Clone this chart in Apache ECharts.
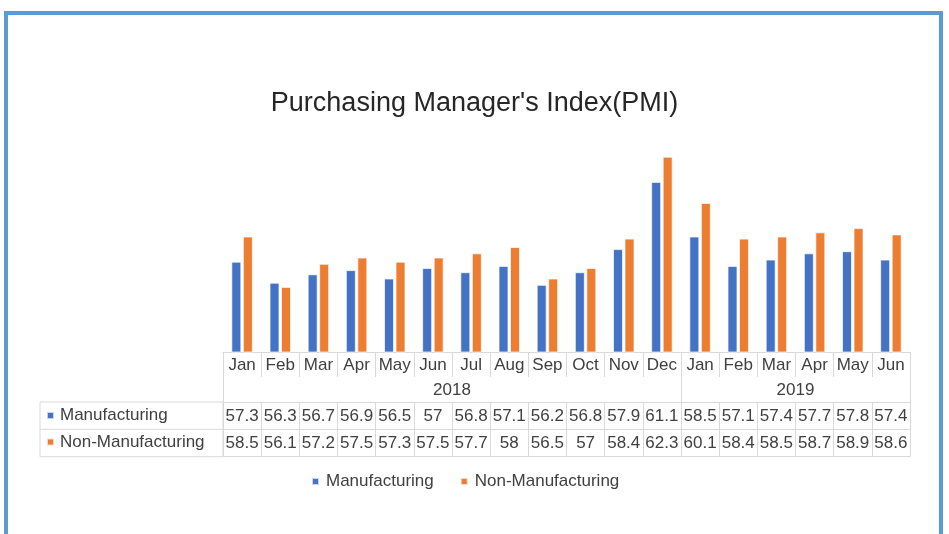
<!DOCTYPE html>
<html>
<head>
<meta charset="utf-8">
<script src="https://cdn.jsdelivr.net/npm/echarts@6/dist/echarts.min.js"></script>
<style>
  html, body { margin: 0; padding: 0; background: #fff; overflow: hidden; }
  #main { width: 949px; height: 534px; }
  /* blue frame round the chart, bottom edge runs off the picture */
  .frame {
    position: absolute; left: 4px; top: 11px; width: 939px; height: 600px;
    box-sizing: border-box; border: 4px solid #5b9bd5; pointer-events: none;
  }
</style>
</head>
<body>
<div id="main"></div>
<div class="frame"></div>
<script>
// data
const months = ['Jan', 'Feb', 'Mar', 'Apr', 'May', 'Jun', 'Jul', 'Aug', 'Sep', 'Oct', 'Nov', 'Dec',
  'Jan', 'Feb', 'Mar', 'Apr', 'May', 'Jun']
const years = ['2018', '2019']
const yearMid = [6, 15]        // centre of each year group, in month slots
const yearEdges = [0, 12, 18]  // year boundaries, in month slots
const manufacturing = [57.3, 56.3, 56.7, 56.9, 56.5, 57, 56.8, 57.1, 56.2, 56.8, 57.9, 61.1,
  58.5, 57.1, 57.4, 57.7, 57.8, 57.4]
const nonManufacturing = [58.5, 56.1, 57.2, 57.5, 57.3, 57.5, 57.7, 58, 56.5, 57, 58.4, 62.3,
  60.1, 58.4, 58.5, 58.7, 58.9, 58.6]

const FONT = '"Liberation Sans", Arial, sans-serif'
const TXT = '#404040'
const LINE = '#d9d9d9'

const chart = echarts.init(document.getElementById('main'))

// slot boundaries and slot centres for the data-table rows
const edges = months.map((m, i) => i).concat(months.length)
const centres = months.map((m, i) => i + 0.5)

// one value axis per table row, laid under the plot
function tableRow(offset, tickLen, labels) {
  return {
    type: 'value', position: 'bottom', offset: offset, min: 0, max: months.length,
    splitLine: { show: false },
    axisLine: { show: true, lineStyle: { color: LINE } },
    axisTick: { show: tickLen > 0, customValues: edges, length: tickLen, lineStyle: { color: LINE } },
    axisLabel: labels ? {
      customValues: centres, margin: 6, color: TXT, fontSize: 17, fontFamily: FONT,
      formatter: v => String(labels[Math.floor(v)])
    } : { show: false }
  }
}

const option = {
  animation: false,
  title: {
    text: "Purchasing Manager's Index(PMI)",
    left: 'center', top: 85,
    textStyle: { fontSize: 27, fontWeight: 'normal', color: '#262626', fontFamily: FONT }
  },
  legend: [
    {
      // legend under the table
      left: 311, top: 473, padding: 0, itemGap: 26, itemWidth: 7, itemHeight: 7, icon: 'rect',
      selectedMode: false,
      textStyle: { color: TXT, fontSize: 17, fontFamily: FONT, padding: [0, 0, 0, 2] }
    },
    {
      // series keys in the table's first column
      left: 46, top: 407, orient: 'vertical', padding: 0, itemGap: 9.5, itemWidth: 7, itemHeight: 7,
      icon: 'rect', selectedMode: false,
      textStyle: { color: TXT, fontSize: 17, lineHeight: 17, fontFamily: FONT, padding: [0, 0, 0, 1] }
    }
  ],
  grid: { left: 223, width: 687, top: 142, height: 210, containLabel: false },
  xAxis: [
    {
      type: 'category', data: months, position: 'bottom',
      axisLine: { show: true, lineStyle: { color: LINE } },
      axisTick: { show: true, interval: 0, length: 25, lineStyle: { color: LINE } },
      axisLabel: { interval: 0, margin: 5, color: TXT, fontSize: 17, fontFamily: FONT }
    },
    {
      // year row
      type: 'value', position: 'bottom', offset: 25, min: 0, max: months.length,
      splitLine: { show: false },
      axisLine: { show: false },
      axisTick: { show: true, customValues: yearEdges, length: 25, lineStyle: { color: LINE } },
      axisLabel: {
        customValues: yearMid, margin: 5, color: TXT, fontSize: 17, fontFamily: FONT,
        formatter: v => years[yearMid.indexOf(v)]
      }
    },
    tableRow(50, 27.3, manufacturing),
    tableRow(77.3, 27.4, nonManufacturing),
    tableRow(104.7, 0, null)
  ],
  yAxis: { type: 'value', min: 53, max: 63, show: false },
  // first column box of the data table
  graphic: [
    { type: 'rect', shape: { x: 40, y: 402, width: 183, height: 54.7 },
      style: { fill: 'none', stroke: LINE, lineWidth: 1 } },
    { type: 'line', shape: { x1: 40, y1: 429.3, x2: 223, y2: 429.3 },
      style: { stroke: LINE, lineWidth: 1 } }
  ],
  series: [
    {
      name: 'Manufacturing', type: 'bar', data: manufacturing,
      barWidth: 10, barGap: '15%',
      itemStyle: { color: '#4472c4', borderColor: 'rgba(255,255,255,0.7)', borderWidth: 1 }
    },
    {
      name: 'Non-Manufacturing', type: 'bar', data: nonManufacturing,
      barWidth: 10, barGap: '15%',
      itemStyle: { color: '#ed7d31', borderColor: 'rgba(255,255,255,0.7)', borderWidth: 1 }
    }
  ]
}

chart.setOption(option)
</script>
</body>
</html>
